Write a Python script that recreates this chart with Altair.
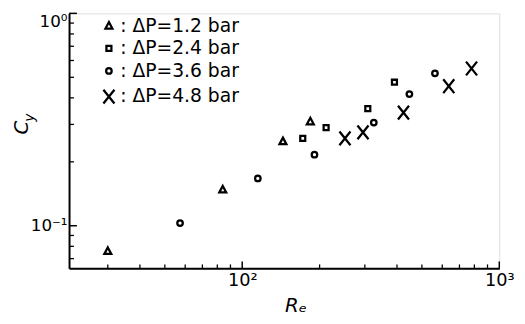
import altair as alt
import pandas as pd

# ---- data ----
series = ["ΔP=1.2 bar", "ΔP=2.4 bar", "ΔP=3.6 bar", "ΔP=4.8 bar"]

re_12 = [30.0, 84, 144, 184]
cy_12 = [0.076, 0.148, 0.250, 0.310]

re_24 = [172, 212, 308, 391]
cy_24 = [0.258, 0.290, 0.356, 0.474]

re_36 = [57.3, 115, 191, 325, 447, 562]
cy_36 = [0.103, 0.167, 0.216, 0.306, 0.417, 0.522]

re_48 = [251, 295, 424, 636, 780]
cy_48 = [0.258, 0.275, 0.341, 0.454, 0.550]

x_major = [100, 1000]
x_minor = [30, 40, 50, 60, 70, 80, 90, 200, 300, 400, 500, 600, 700, 800, 900]
y_major = [0.1, 1.0]
y_minor = [0.07, 0.08, 0.09, 0.2, 0.3, 0.4, 0.5, 0.6, 0.7, 0.8, 0.9]

rows = []
for name, xs, ys in zip(series, [re_12, re_24, re_36, re_48], [cy_12, cy_24, cy_36, cy_48]):
    for a, b in zip(xs, ys):
        rows.append({"series": name, "re": a, "cy": b})
df = pd.DataFrame(rows)

FONT = "DejaVu Sans"
W, H = 437, 259

tri = "M0,-0.52L0.5,0.42L-0.5,0.42Z"
sq = "M-0.36,-0.36L0.36,-0.36L0.36,0.36L-0.36,0.36Z"
circ = "M0.4,0A0.4,0.4,0,1,1,-0.4,0A0.4,0.4,0,1,1,0.4,0Z"
xx = "M-0.8,-1L0.8,1M-0.8,1L0.8,-1"

xscale = alt.Scale(type="log", domain=[21.2, 1000], nice=False)
yscale = alt.Scale(type="log", domain=[0.063, 1.0], nice=False)

xaxis = alt.Axis(
    values=x_major, labelExpr="datum.value == 100 ? '10²' : '10³'",
    ticks=False, grid=False, domainColor="black", domainWidth=2,
    labelFontSize=18, labelFont=FONT, labelColor="black", labelPadding=3,
    labelFlush=False, labelOverlap=False,
    title="Rₑ", titleFont=FONT, titleFontSize=20, titleFontStyle="italic",
    titleFontWeight="normal", titleColor="black", titleX=230, titleY=28,
)
yaxis = alt.Axis(
    values=y_major, labelExpr="datum.value == 1 ? '10⁰' : '10⁻¹'",
    ticks=False, grid=False, domainColor="black", domainWidth=2,
    labelFontSize=17, labelFont=FONT, labelColor="black", labelPadding=2,
    labelFlush=True, labelOverlap=False, title=None,
)

points = alt.Chart(df).mark_point(filled=False, strokeWidth=2.3, color="black", opacity=1).encode(
    x=alt.X("re:Q", scale=xscale, axis=xaxis),
    y=alt.Y("cy:Q", scale=yscale, axis=yaxis),
    shape=alt.Shape("series:N", scale=alt.Scale(domain=series, range=[tri, sq, circ, xx]),
                    legend=alt.Legend(
                        orient="none", legendX=31, legendY=3, title=None,
                        labelExpr="': ' + datum.label",
                        labelFont=FONT, labelFontSize=19, labelColor="black",
                        symbolSize=196, symbolStrokeWidth=2.3, symbolStrokeColor="black",
                        symbolFillColor="transparent", rowPadding=3, labelOffset=2, padding=0)),
    size=alt.value(196),
)

xt_min = alt.Chart(pd.DataFrame({"re": x_minor})).mark_rule(color="black", strokeWidth=1.3).encode(
    x=alt.X("re:Q", scale=xscale, axis=xaxis), y=alt.value(H), y2=alt.value(H - 4))
xt_maj = alt.Chart(pd.DataFrame({"re": x_major})).mark_rule(color="black", strokeWidth=1.5).encode(
    x=alt.X("re:Q", scale=xscale, axis=xaxis), y=alt.value(H), y2=alt.value(H - 7))
yt_min = alt.Chart(pd.DataFrame({"cy": y_minor})).mark_rule(color="black", strokeWidth=1.3).encode(
    y=alt.Y("cy:Q", scale=yscale, axis=yaxis), x=alt.value(0), x2=alt.value(5))
yt_maj = alt.Chart(pd.DataFrame({"cy": y_major})).mark_rule(color="black", strokeWidth=1.5).encode(
    y=alt.Y("cy:Q", scale=yscale, axis=yaxis), x=alt.value(0), x2=alt.value(8))

ytitle_c = alt.Chart(pd.DataFrame({"t": ["C"]})).mark_text(
    font=FONT, fontSize=20, fontStyle="italic", angle=270, color="black").encode(
    text="t:N", x=alt.value(-48), y=alt.value(116))
ytitle_y = alt.Chart(pd.DataFrame({"t": ["y"]})).mark_text(
    font=FONT, fontSize=14, fontStyle="italic", angle=270, color="black").encode(
    text="t:N", x=alt.value(-40), y=alt.value(106))

chart = alt.layer(xt_min, xt_maj, yt_min, yt_maj, points, ytitle_c, ytitle_y).properties(
    width=W, height=H,
    padding={"left": 62, "top": 3, "right": 18, "bottom": 50},
    autosize=alt.AutoSizeParams(type="none"),
).configure_view(stroke=None).configure(background="white")

chart.save("out.html", embed_options={"renderer": "svg", "actions": False})
